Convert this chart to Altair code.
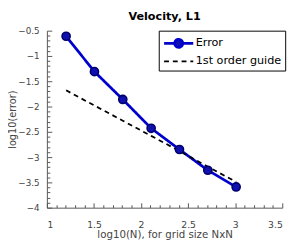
import altair as alt
import pandas as pd

x_vals = [1.204, 1.505, 1.806, 2.107, 2.408, 2.709, 3.010]
err_vals = [-0.61, -1.31, -1.86, -2.43, -2.85, -3.26, -3.59]
guide_vals = [-1.68, -1.98, -2.28, -2.58, -2.88, -3.19, -3.49]
series = ["Error", "1st order guide"]

rows = []
for x, e in zip(x_vals, err_vals):
    rows.append({"x": x, "y": e, "series": "Error"})
for x, g in zip(x_vals, guide_vals):
    rows.append({"x": x, "y": g, "series": "1st order guide"})
df = pd.DataFrame(rows)

xticks = [round(1 + 0.1 * i, 1) for i in range(26)]
yticks = [round(-4 + 0.1 * i, 1) for i in range(36)]
major = "abs(datum.value*2 - round(datum.value*2)) < 0.01"

FONT = "DejaVu Sans"
BLUE = "#0000cc"
W, H = 242, 182

x_axis = alt.Axis(
    values=xticks, grid=False, ticks=False, title="log10(N), for grid size NxN",
    labelExpr=f"{major} ? format(datum.value, '~g') : ''",
    labelFont=FONT, labelFontSize=9.5, labelColor="#444", titleFont=FONT,
    titleFontSize=10.5, titleFontWeight="normal", titleColor="#444",
    domainColor="#555", labelPadding=12, titlePadding=1,
)
y_axis = alt.Axis(
    values=yticks, ticks=False, title="log10(error)",
    labelExpr=f"{major} ? format(datum.value, '~g') : ''",
    gridOpacity={"condition": {"test": f"{major} && datum.value > -3.99", "value": 1}, "value": 0},
    gridDash=[1, 3], gridColor="#999",
    labelFont=FONT, labelFontSize=9, labelColor="#444", titleFont=FONT,
    titleFontSize=10, titleFontWeight="normal", titleColor="#444",
    domainColor="#555", labelPadding=8, titleX=-30,
)
x_tick_axis = alt.Axis(
    orient="top", offset=-H, values=xticks, grid=False, labels=False, domain=False, title=None,
    tickColor="#555", tickSize={"condition": {"test": major, "value": 5}, "value": 3},
)
y_tick_axis = alt.Axis(
    orient="right", offset=-W, values=yticks, grid=False, labels=False, domain=False, title=None,
    tickColor="#555", tickSize={"condition": {"test": major, "value": 5}, "value": 3},
)

xs = alt.Scale(domain=[1, 3.5], nice=False, zero=False)
ys = alt.Scale(domain=[-4, -0.5], nice=False, zero=False)

err_shape = "M-1,0L0.45,0M1.55,0L3,0M1.55,0A0.55,0.55,0,1,1,0.45,0A0.55,0.55,0,1,1,1.55,0"
guide_shape = "M-1,0L3,0"
legend = alt.Legend(
    title=None, orient="none", legendX=115, legendY=0,
    symbolSize=225, symbolStrokeWidth=2.5,
    labelFont=FONT, labelFontSize=11.5, labelColor="#000",
    strokeColor="#000", fillColor="#fff", padding=4, rowPadding=0,
    labelOffset=16,
)

stroke_enc = alt.Stroke("series:N", scale=alt.Scale(domain=series, range=[BLUE, "#000"]), legend=legend)
dash_enc = alt.StrokeDash("series:N", scale=alt.Scale(domain=series, range=[[1, 0], [5, 4]]), legend=legend)

legend_layer = alt.Chart(df).transform_filter("false").mark_point(filled=False, opacity=1).encode(
    x=alt.X("x:Q", scale=xs, axis=None),
    y=alt.Y("y:Q", scale=ys, axis=None),
    stroke=stroke_enc,
    strokeDash=dash_enc,
    fill=alt.Fill("series:N", scale=alt.Scale(domain=series, range=["#1010b0", "transparent"]), legend=legend),
    shape=alt.Shape("series:N", scale=alt.Scale(domain=series, range=[err_shape, guide_shape]), legend=legend),
)

lines = alt.Chart(df).mark_line().encode(
    x=alt.X("x:Q", scale=xs, axis=x_axis),
    y=alt.Y("y:Q", scale=ys, axis=y_axis),
    stroke=stroke_enc,
    strokeDash=dash_enc,
    strokeWidth=alt.StrokeWidth("series:N", scale=alt.Scale(domain=series, range=[2.8, 1.8]), legend=None),
    order=alt.Order("x:Q"),
)

points = alt.Chart(df).transform_filter(alt.datum.series == "Error").mark_point(
    filled=True, size=70, color="#1010b0", stroke="#00006a", strokeWidth=1.6, opacity=1
).encode(
    x=alt.X("x:Q", scale=xs, axis=x_tick_axis),
    y=alt.Y("y:Q", scale=ys, axis=y_tick_axis),
)

chart = alt.layer(legend_layer, lines, points).resolve_axis(x="independent", y="independent").properties(
    width=W, height=H,
    title=alt.Title("Velocity, L1", font=FONT, fontSize=11.5, fontWeight="bold", color="#000", offset=4),
    autosize=alt.AutoSizeParams(type="none"),
    padding={"left": 40, "top": 20, "right": 10, "bottom": 33},
).configure_view(stroke=None)

chart.save("out.html", embed_options={"renderer": "svg", "actions": False})
